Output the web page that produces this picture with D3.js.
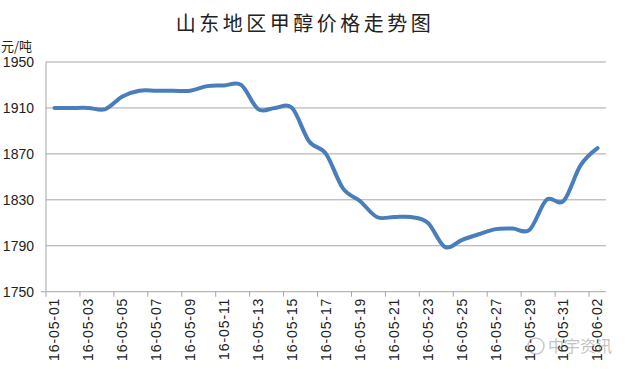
<!DOCTYPE html>
<html><head><meta charset="utf-8">
<script src="https://cdn.jsdelivr.net/npm/d3@7/dist/d3.min.js"></script>
<style>
html,body{margin:0;padding:0;background:#fff;}
svg{display:block;}
</style></head>
<body>
<svg id="c" width="628" height="369"></svg>
<script>
const title = "山东地区甲醇价格走势图";
const unitLabel = "元/吨";
const dates = ["16-05-01","16-05-02","16-05-03","16-05-04","16-05-05","16-05-06","16-05-07","16-05-08","16-05-09","16-05-10","16-05-11","16-05-12","16-05-13","16-05-14","16-05-15","16-05-16","16-05-17","16-05-18","16-05-19","16-05-20","16-05-21","16-05-22","16-05-23","16-05-24","16-05-25","16-05-26","16-05-27","16-05-28","16-05-29","16-05-30","16-05-31","16-06-01","16-06-02"];
const prices = [1910,1910,1910,1909,1920,1925,1925,1925,1925,1929,1929.5,1930,1909,1910,1910,1881,1870,1840,1829,1815,1815,1815,1810,1789,1795,1800,1804.5,1805,1804,1830,1829,1860,1875];
const yTicks = [1750,1790,1830,1870,1910,1950];

const svg = d3.select("#c");
const L = 46, R = 606, T = 62, B = 291.7;

const x = d3.scaleBand().domain(dates).range([L, R]).padding(0);
const y = d3.scaleLinear().domain([1750, 1950]).range([B, T]);
const cx = d => x(d) + x.bandwidth() / 2;

// title
svg.append("text").attr("x", 305).attr("y", 31).attr("text-anchor", "middle")
  .attr("font-family", "'Noto Sans CJK SC', sans-serif").attr("font-size", 20)
  .attr("letter-spacing", 3.5).attr("fill", "#222").text(title);

// unit
svg.append("text").attr("x", 1).attr("y", 51)
  .attr("font-family", "'Noto Sans CJK SC', sans-serif").attr("font-size", 13)
  .attr("fill", "#222").text(unitLabel);

// gridlines
svg.append("g").selectAll("line").data(yTicks.filter(v => v > 1750)).join("line")
  .attr("x1", L).attr("x2", R).attr("y1", d => y(d)).attr("y2", d => y(d))
  .attr("stroke", "#a6a6a6").attr("stroke-width", 1);

// y labels
svg.append("g").selectAll("text").data(yTicks).join("text")
  .attr("x", 34).attr("y", d => y(d)).attr("dy", "0.36em").attr("text-anchor", "end")
  .attr("font-family", "'Liberation Sans', Arial, sans-serif").attr("font-size", 14)
  .attr("fill", "#222").text(d => d);

// axes lines
svg.append("line").attr("x1", L).attr("x2", L).attr("y1", T).attr("y2", B)
  .attr("stroke", "#a6a6a6");
svg.append("line").attr("x1", L - 5).attr("x2", R).attr("y1", B).attr("y2", B)
  .attr("stroke", "#a6a6a6");

// x ticks every 2 categories
const tickCats = dates.filter((d, i) => i % 2 === 0);
svg.append("g").selectAll("line").data(tickCats).join("line")
  .attr("x1", d => x(d)).attr("x2", d => x(d)).attr("y1", B).attr("y2", B + 5)
  .attr("stroke", "#a6a6a6");

// x labels
svg.append("g").selectAll("text").data(tickCats).join("text")
  .attr("transform", d => `translate(${cx(d)},${B + 6}) rotate(-90)`)
  .attr("dy", "0.35em").attr("text-anchor", "end")
  .attr("font-family", "'Liberation Sans', Arial, sans-serif").attr("font-size", 14)
  .attr("letter-spacing", 0.9).attr("fill", "#222").text(d => d);

// line
const line = d3.line().x((d, i) => cx(dates[i])).y(d => y(d)).curve(d3.curveCardinal.tension(0));
svg.append("path").datum(prices).attr("d", line).attr("fill", "none")
  .attr("stroke", "#4a7ebb").attr("stroke-width", 4).attr("stroke-linejoin", "round").attr("stroke-linecap", "round");

// watermark
const wm = svg.append("g").attr("opacity", 0.35);
wm.append("circle").attr("cx", 536).attr("cy", 346).attr("r", 8).attr("fill", "none").attr("stroke", "#666").attr("stroke-width", 1.5);
wm.append("text").attr("x", 548).attr("y", 352)
  .attr("font-family", "'Noto Sans CJK SC', sans-serif").attr("font-size", 16)
  .attr("fill", "#555").text("中宇资讯");
</script>
</body></html>
